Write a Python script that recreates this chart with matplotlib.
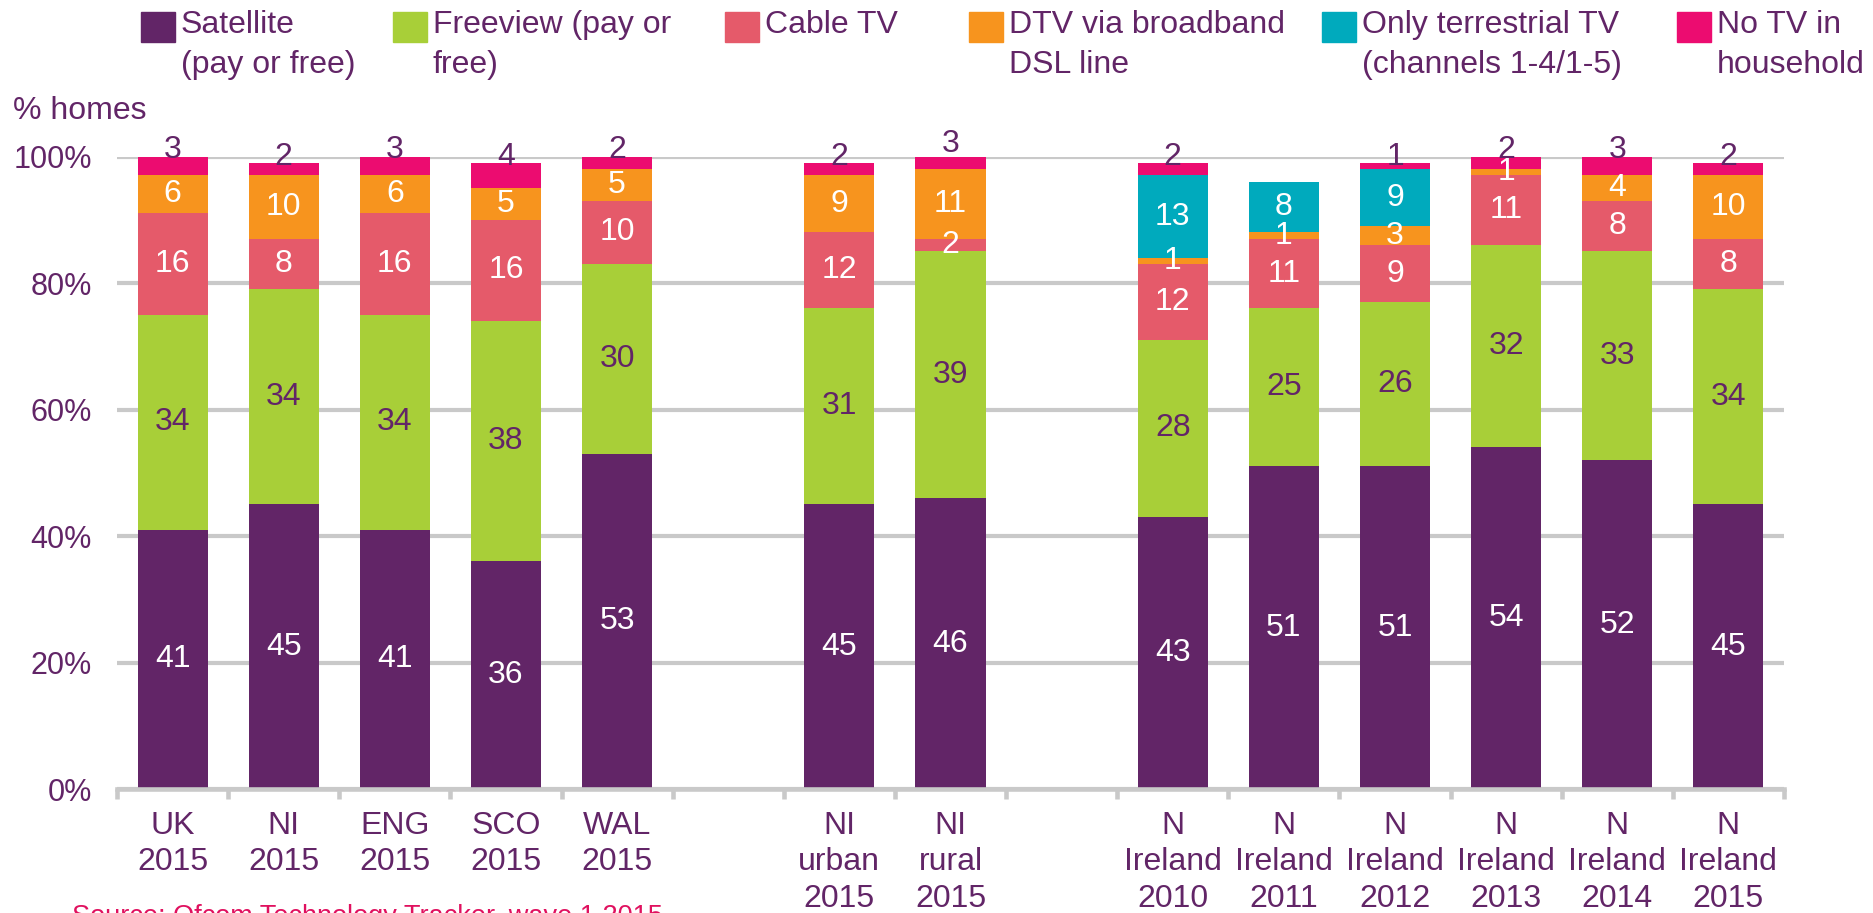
import matplotlib
matplotlib.use("Agg")
import matplotlib.pyplot as plt
from matplotlib.patches import Rectangle
import numpy as np

plt.rcParams["font.family"] = ["Liberation Sans", "DejaVu Sans"]

PURPLE = "#622567"
GRID = "#C9C9C9"

categories = [
    "UK\n2015", "NI\n2015", "ENG\n2015", "SCO\n2015", "WAL\n2015",
    "NI\nurban\n2015", "NI\nrural\n2015",
    "N\nIreland\n2010", "N\nIreland\n2011", "N\nIreland\n2012",
    "N\nIreland\n2013", "N\nIreland\n2014", "N\nIreland\n2015",
]
group_sizes = [5, 2, 6]

satellite = [41, 45, 41, 36, 53, 45, 46, 43, 51, 51, 54, 52, 45]
freeview = [34, 34, 34, 38, 30, 31, 39, 28, 25, 26, 32, 33, 34]
cable = [16, 8, 16, 16, 10, 12, 2, 12, 11, 9, 11, 8, 8]
dtv_dsl = [6, 10, 6, 5, 5, 9, 11, 1, 1, 3, 1, 4, 10]
terrestrial = [0, 0, 0, 0, 0, 0, 0, 13, 8, 9, 0, 0, 0]
no_tv = [3, 2, 3, 4, 2, 2, 3, 2, 0, 1, 2, 3, 2]

series = [satellite, freeview, cable, dtv_dsl, terrestrial]
series_colors = ["#622567", "#A8CF38", "#E55A6A", "#F7941E", "#00AABD"]
label_colors = ["white", PURPLE, "white", "white", "white"]
no_tv_color = "#EC0C70"

legend_labels = [
    "Satellite\n(pay or free)",
    "Freeview (pay or\nfree)",
    "Cable TV",
    "DTV via broadband\nDSL line",
    "Only terrestrial TV\n(channels 1-4/1-5)",
    "No TV in\nhousehold",
]
legend_colors = series_colors + [no_tv_color]
legend_x = [141, 393, 725, 969, 1322, 1677]

source_text = "Source: Ofcom Technology Tracker, wave 1 2015"

W, H = 1874, 913
fig = plt.figure(figsize=(W / 100, H / 100), dpi=100)
ax = fig.add_axes([117 / W, 1 - 789 / H, (1784 - 117) / W, (789 - 156.5) / H])

# slot positions with one empty slot between groups
xpos = []
start = 0
for g in group_sizes:
    xpos.extend(range(start, start + g))
    start += g + 1
xpos = np.array(xpos)
n_slots = start - 1

bar_w = 0.63
bottom = np.zeros(len(categories))
for vals, col, lc in zip(series, series_colors, label_colors):
    vals = np.array(vals)
    ax.bar(xpos, vals, bar_w, bottom=bottom, color=col, zorder=3)
    for x, b, v in zip(xpos, bottom, vals):
        if v > 0:
            ax.text(x, b + v / 2, str(v), ha="center", va="center",
                    color=lc, fontsize=23, zorder=4)
    bottom += vals

no_tv_arr = np.array(no_tv)
ax.bar(xpos, no_tv_arr, bar_w, bottom=bottom, color=no_tv_color, zorder=3)
for x, b, v in zip(xpos, bottom, no_tv_arr):
    if v > 0:
        ax.text(x, b + v - 0.3, str(v), ha="center", va="baseline",
                color=PURPLE, fontsize=23, zorder=4, clip_on=False)

ax.set_xlim(-0.5, n_slots - 0.5)
ax.set_ylim(0, 100)
ax.set_yticks(np.arange(0, 101, 20))
ax.set_yticklabels([f"{v}%" for v in range(0, 101, 20)])
ax.yaxis.grid(True, color=GRID, linewidth=3, zorder=0)
ax.tick_params(axis="y", length=0, pad=18, labelsize=22, labelcolor=PURPLE)

ax.set_xticks(xpos)
ax.set_xticklabels(categories, fontsize=23, color=PURPLE, linespacing=1.27)
ax.set_xticks(np.arange(-0.5, n_slots, 1), minor=True)
ax.tick_params(axis="x", which="major", length=0, pad=16)
ax.tick_params(axis="x", which="minor", length=7, width=3.3, color=GRID,
               direction="out")

for side in ["top", "right", "left"]:
    ax.spines[side].set_visible(False)
ax.spines["bottom"].set_color(GRID)
ax.spines["bottom"].set_linewidth(3.3)
ax.spines["bottom"].set_zorder(5)

fig.text(13 / W, 1 - 111 / H, "% homes", fontsize=23, color=PURPLE,
         ha="left", va="center")

# legend drawn by hand to match the original row layout
for lx, col, lab in zip(legend_x, legend_colors, legend_labels):
    fig.patches.append(Rectangle((lx / W, 1 - 42 / H), 34 / W, 30 / H,
                                 transform=fig.transFigure, color=col))
    fig.text((lx + 40) / W, 1 - 10 / H, lab, fontsize=23, color=PURPLE,
             ha="left", va="top", linespacing=1.45)

fig.text(72 / W, 1 - 904 / H, source_text, fontsize=19.5, color="#E0115F",
         ha="left", va="top")

fig.savefig("out.png", dpi=100)
